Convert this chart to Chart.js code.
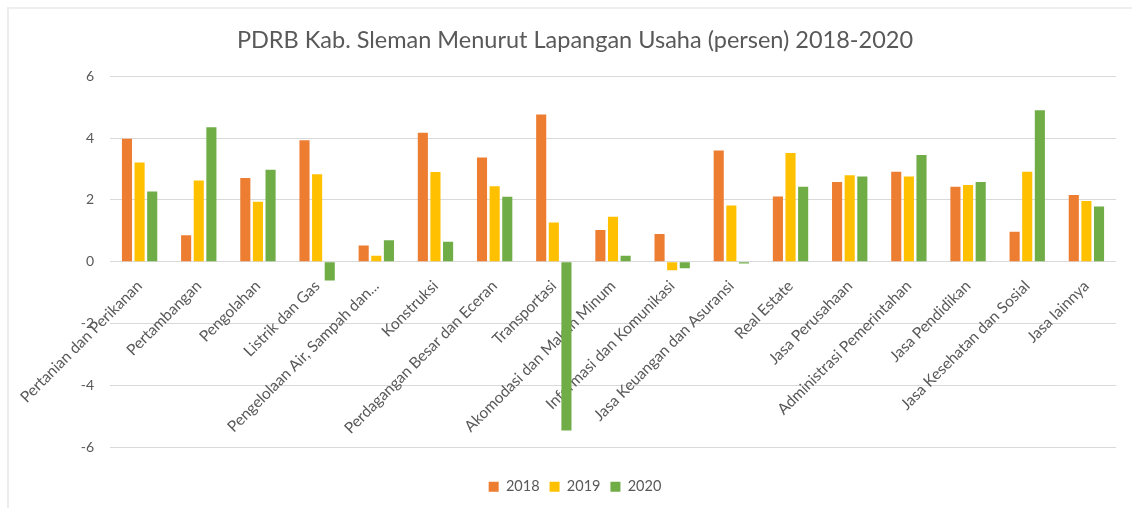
<!DOCTYPE html>
<html>
<head>
<meta charset="utf-8">
<script src="https://cdn.jsdelivr.net/npm/chart.js@4/dist/chart.umd.min.js"></script>
<style>
  html, body { margin: 0; padding: 0; background: #fff; }
  #wrap { position: absolute; left: 7px; top: 7px; width: 1125px; height: 501px; border-left: 2px solid #ececec; border-top: 2px solid #efefef; box-sizing: border-box; }
  #box { position: absolute; left: 0; top: 0; width: 1132px; height: 508px; }
</style>
</head>
<body>
<div id="wrap"></div>
<div id="box"><canvas id="c" width="1132" height="508"></canvas></div>
<script>
const categories = [
  "Pertanian dan Perikanan", "Pertambangan", "Pengolahan", "Listrik dan Gas",
  "Pengelolaan Air, Sampah dan...", "Konstruksi", "Perdagangan Besar dan Eceran",
  "Transportasi", "Akomodasi dan Makan Minum", "Informasi dan Komunikasi",
  "Jasa Keuangan dan Asuransi", "Real Estate", "Jasa Perusahaan",
  "Administrasi Pemerintahan", "Jasa Pendidikan", "Jasa Kesehatan dan Sosial", "Jasa lainnya"
];
const values2018 = [3.98, 0.86, 2.71, 3.93, 0.53, 4.17, 3.37, 4.76, 1.03, 0.90, 3.60, 2.11, 2.58, 2.91, 2.43, 0.97, 2.16];
const values2019 = [3.21, 2.63, 1.94, 2.83, 0.20, 2.90, 2.44, 1.27, 1.46, -0.27, 1.82, 3.52, 2.80, 2.76, 2.48, 2.91, 1.97];
const values2020 = [2.27, 4.35, 2.98, -0.60, 0.70, 0.65, 2.10, -5.45, 0.20, -0.21, -0.05, 2.43, 2.76, 3.45, 2.58, 4.90, 1.79];
const yTicks = [-6, -4, -2, 0, 2, 4, 6];
const seriesNames = ["2018", "2019", "2020"];

const FONT = "Lato, 'Open Sans', sans-serif";
const GRAY = "#595959";

new Chart(document.getElementById('c'), {
  type: 'bar',
  data: {
    labels: categories,
    datasets: [
      { label: seriesNames[0], data: values2018, backgroundColor: '#ed7d31' },
      { label: seriesNames[1], data: values2019, backgroundColor: '#ffc000' },
      { label: seriesNames[2], data: values2020, backgroundColor: '#70ad47' }
    ]
  },
  options: {
    responsive: false,
    animation: false,
    layout: { padding: { left: 34, right: 16, top: 0, bottom: 4 } },
    datasets: { bar: { categoryPercentage: 0.64, barPercentage: 0.8 } },
    plugins: {
      title: {
        display: true,
        text: 'PDRB Kab. Sleman Menurut Lapangan Usaha (persen) 2018-2020',
        color: GRAY,
        font: { family: FONT, size: 23.5, weight: 'normal' },
        padding: { top: 26, bottom: 22 }
      },
      legend: {
        position: 'bottom',
        title: { display: true, text: ' ', font: { size: 10 }, padding: { top: 0, bottom: 10 } },
        labels: {
          color: GRAY,
          font: { family: FONT, size: 14.5 },
          boxWidth: 10, boxHeight: 10,
          padding: 10
        }
      },
      tooltip: { enabled: false }
    },
    scales: {
      x: {
        position: { y: 0 },
        grid: { display: false, drawTicks: false },
        border: { display: false },
        ticks: {
          color: GRAY,
          font: { family: FONT, size: 15.5 },
          minRotation: 45, maxRotation: 45,
          autoSkip: false,
          padding: 15
        }
      },
      y: {
        min: -6, max: 6,
        afterBuildTicks: (s) => { s.ticks = yTicks.map(v => ({ value: v })); },
        afterFit: (s) => { s.width = 76; },
        grid: { color: '#d9d9d9', drawTicks: false, lineWidth: 1 },
        border: { display: false },
        ticks: {
          color: GRAY,
          font: { family: FONT, size: 14 },
          padding: 16
        }
      }
    }
  }
});
</script>
</body>
</html>
